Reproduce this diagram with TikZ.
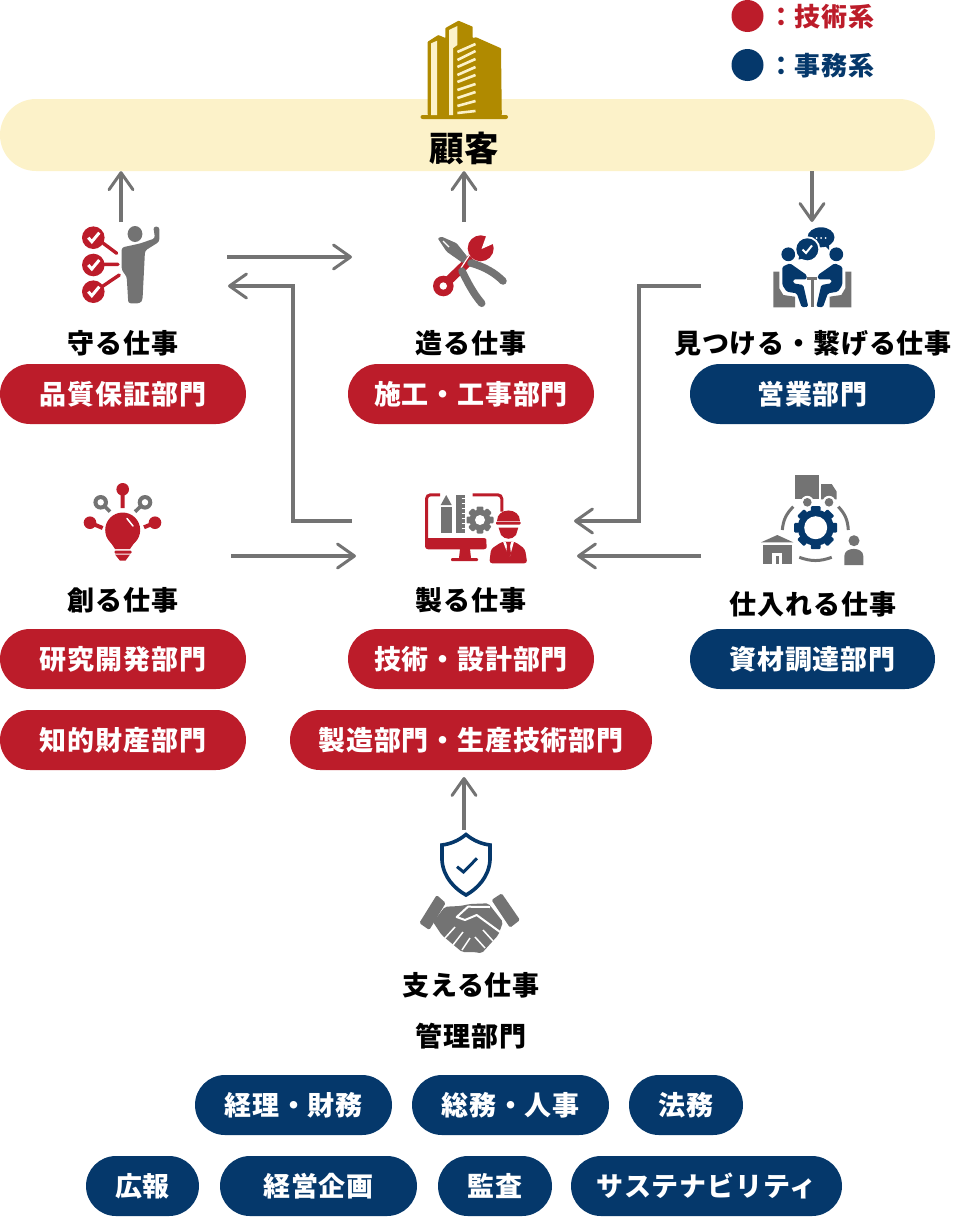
\documentclass[tikz,border=0pt]{standalone}
\usepackage{fontspec}
\setmainfont{Noto Sans CJK JP}[LetterSpace=3]
\usetikzlibrary{arrows.meta}

\definecolor{rot}{HTML}{BC1C2A}
\definecolor{blau}{HTML}{05386B}
\definecolor{grau}{HTML}{737373}
\definecolor{gold}{HTML}{B08A00}
\definecolor{creme}{HTML}{FCF2C9}

\tikzset{
    pille/.style={rounded corners=30pt, minimum height=60pt, inner sep=0pt, text=white,
        font=\fontsize{27}{32}\selectfont\bfseries},
    rotpille/.style={pille, fill=rot},
    blaupille/.style={pille, fill=blau},
    titel/.style={inner sep=0pt, font=\fontsize{27}{32}\selectfont\bfseries},
    legende/.style={anchor=west, inner sep=0pt, font=\fontsize{26}{31}\selectfont\bfseries},
    pfeil/.style={draw=grau, line width=3.4pt,
        -{Straight Barb[length=17pt, width=24pt, line width=3pt, round]}}
}

\newcommand{\zahnrad}[7]{
    \foreach \w in {0,45,...,315}
        \fill[#6, shift={(#1,#2)}, rotate=\w, rounded corners=1pt] (-#7,#3-5) rectangle (#7,#3);
    \fill[#6] (#1,#2) circle (#4);
    \fill[white] (#1,#2) circle (#5);
}

\begin{document}
\begin{tikzpicture}[x=1pt, y=-1pt]
    \useasboundingbox (0,0) rectangle (953,1226);

    \node[fill=creme, rounded corners=36pt, minimum width=935pt, minimum height=72pt, inner sep=0pt] (K) at (467.5,135) {};
    \fill[gold, rounded corners=0.6pt] (427.7,115) -- (427.7,41.7) -- (438.3,35) -- (445.4,38) -- (445.4,28) -- (458.5,20.7) -- (472.7,26.7) -- (472.7,38) -- (476.2,37.3) -- (501,48.3) -- (501.8,115) -- cycle;
    \fill[gold, rounded corners=2pt] (420.5,115) rectangle (508,119);
    \fill[creme] (431.2,43.3) -- (437.2,40.7) -- (437.2,115) -- (431.2,115) -- cycle;
    \fill[creme] (449,30) -- (457.4,26) -- (457.4,45) -- (453.2,48) -- (453.2,115) -- (449,115) -- cycle;
    \foreach \yl/\yr in {52/44,60/51,67/59,75/67,82/75,90/84,98/92,106/101,113/111}
        \draw[creme, line width=2.6pt] (457.4,\yl) -- (475.5,\yr);
    \node[inner sep=0pt, font=\fontsize{34.5}{40}\selectfont\bfseries] (KT) at (464.5,148) {顧客};

    \fill[rot] (747.5,16) circle (16);
    \fill[blau] (747.5,65) circle (16);
    \node[legende, text=rot] (TR) at (768,17) {：技術系};
    \node[legende, text=blau] (TB) at (768,66) {：事務系};

    \coordinate (Mo) at (121,222);
    \coordinate (Ts) at (464,222);
    \coordinate (Mi) at (812,222);
    \coordinate (A1) at (227,257);
    \coordinate (A2) at (352,257);
    \coordinate (B1) at (352,521);
    \coordinate (B2) at (228,286);
    \coordinate (C1) at (701,286);
    \coordinate (C2) at (574,521);
    \coordinate (D1) at (231,556);
    \coordinate (D2) at (356,556);
    \coordinate (E1) at (701,556);
    \coordinate (E2) at (577,556);
    \coordinate (Sa) at (464,830);
    \coordinate (Sb) at (464,777);
    \draw[pfeil] (Mo) -- (Mo |- K.south);
    \draw[pfeil] (Ts) -- (Ts |- K.south);
    \draw[pfeil] (Mi |- K.south) -- (Mi);
    \draw[pfeil] (A1) -- (A2);
    \draw[pfeil] (B1) -- ++(-59,0) |- (B2);
    \draw[pfeil] (C1) -- ++(-62,0) |- (C2);
    \draw[pfeil] (D1) -- (D2);
    \draw[pfeil] (E1) -- (E2);
    \draw[pfeil] (Sa) -- (Sb);

    \fill[grau] (135,234) ellipse (7.4 and 8);
    \fill[grau, rounded corners=2.5pt] (121.7,247.5) -- (140,243.5) -- (155,238.3) -- (153.3,226.7) -- (159.3,226.7) -- (159.3,241.7) -- (145,250.7) -- (142.5,300) -- (140,303.3) -- (128.3,303.3) -- (126.7,276.7) -- (121.7,270) -- cycle;
    \draw[rot, line width=3.4pt, line cap=round] (103.3,243.3) -- (116.7,253.3) (103,264.3) -- (118,264.3) (103,286) -- (119.3,275);
    \foreach \y in {237.7,265,291.7} {
        \fill[rot] (93.3,\y) circle (11.3);
        \draw[white, line width=3pt] (88.3,\y) -- (91.8,\y+4) -- (99.3,\y-5);
    }

    \fill[rot] (480.7,248.3) circle (13);
    \fill[white] (481.5,249) -- (486.5,235) -- (495,243) -- cycle;
    \draw[rot, line width=9pt] (472,258) -- (447,282);
    \fill[rot] (443.3,286) circle (10.3);
    \fill[white] (443.3,286) circle (3.7);
    \fill[grau, rounded corners=1pt] (437.7,238.3) -- (441.7,236.7) -- (456.7,243.3) -- (467.3,256.7) -- (463.3,263.3) -- (446.7,251.7) -- cycle;
    \draw[white, line width=1.4pt] (443,241) -- (449,247);
    \draw[white, line width=1.2pt] (469.5,255) -- (461,268);
    \draw[grau, line width=7.5pt, line cap=round] (471,263) .. controls (485,267) and (495,273) .. (503,281);
    \draw[grau, line width=7.5pt, line cap=round] (462,271) .. controls (468,283) and (473,293) .. (481.7,303.3);

    \foreach \tf in {1,-1} {
        \begin{scope}[shift={(812.3,0)}, xscale=\tf]
            \fill[blau] (-24,254.3) circle (6.9);
            \fill[blau, rounded corners=1.5pt] (-30,266.7) -- (-22.3,263.3) -- (-5.6,275) -- (-5.6,279.3) -- (-19,279.3) -- (-19,283.3) -- (-9,285) -- (-4,306.7) -- (-10.6,307.3) -- (-15.6,293.3) -- (-25.6,291.7) -- (-30,285) -- cycle;
            \fill[grau] (-39,271.7) -- (-33,271.7) -- (-33,288.3) -- (-29,295) -- (-17.3,296.7) -- (-17.3,307.3) -- (-39,307.3) -- cycle;
            \fill[grau] (-5,277) rectangle (0,279.5);
        \end{scope}
    }
    \draw[grau, line width=3pt] (812.3,279) -- (812.3,307);
    \fill[blau] (821,237.3) ellipse (13.5 and 10);
    \fill[blau] (823,244) -- (829,250) -- (829,241) -- cycle;
    \foreach \x in {816.5,821,825.5}
        \fill[white] (\x,238) circle (1);
    \fill[white] (807.3,249.3) circle (13);
    \fill[blau] (807.3,249.3) circle (11);
    \fill[blau] (800,252) -- (798.5,259.5) -- (806,258) -- cycle;
    \draw[white, line width=2pt] (802.5,249.5) -- (806,253) -- (812,245.5);

    \fill[rot] (122.7,530) circle (17.5);
    \fill[rot] (106.5,536) -- (139,536) -- (130,549) -- (115,549) -- cycle;
    \fill[rot, rounded corners=1pt] (114.5,550.5) rectangle (131.5,553.5);
    \fill[rot] (115,554.5) -- (130,554.5) -- (125.5,560.7) -- (120,560.7) -- cycle;
    \draw[white, line width=1.5pt, line cap=round] (127,518.5) -- (133,526);
    \draw[rot, line width=4pt] (122.7,489) -- (122.7,508) (90,522.7) -- (102.7,528) (155,522.7) -- (144,527.3);
    \fill[rot] (122.7,489.3) circle (6.3);
    \fill[rot] (90,522.7) circle (6.3);
    \fill[rot] (155,522.7) circle (6.3);
    \draw[grau, line width=3.6pt] (100.7,502.3) -- (110,511.7) (145,502.3) -- (135,511.7);
    \foreach \x in {100.7,145} {
        \fill[grau] (\x,502.3) circle (7.3);
        \fill[white] (\x,502.3) circle (3.2);
    }

    \draw[rot, line width=3pt, rounded corners=4pt] (440,494.8) -- (426.5,494.8) -- (426.5,545) -- (440,547);
    \draw[rot, line width=3pt, rounded corners=4pt] (472.7,494.8) -- (501.8,494.8) -- (501.8,511.5);
    \fill[rot, rounded corners=3pt] (425,538) -- (487,538) -- (487,549.3) -- (425,549.3) -- cycle;
    \fill[rot] (460,549) -- (470,549) -- (471,558) -- (459,558) -- cycle;
    \fill[rot, rounded corners=1pt] (451,558) rectangle (478,561);
    \fill[grau] (446.2,495) -- (451.7,505) -- (440.7,505) -- cycle;
    \fill[grau] (440.7,506.7) rectangle (451.7,533.3);
    \fill[grau] (456,495) rectangle (465,533.3);
    \foreach \y in {498,503,508,513,518,523,528}
        \draw[white, line width=1pt] (461.5,\y) -- (465.5,\y);
    \zahnrad{480}{520}{13.5}{10.5}{5}{grau}{3.4}
    \fill[white] (508.3,542) ellipse (22 and 24);
    \fill[rot] (497,521) .. controls (497,507) and (520,507) .. (520,521) -- cycle;
    \fill[rot, rounded corners=1pt] (496,521.5) rectangle (520.7,524.5);
    \fill[rot] (498.5,527.5) -- (518.3,527.5) -- (516,535) .. controls (512,540) and (505,540) .. (501,535) -- cycle;
    \fill[rot, rounded corners=3pt] (489.3,563.3) -- (491,549) -- (502,541.7) -- (515,541.7) -- (525,549) -- (527.3,563.3) -- cycle;
    \fill[white] (503,541.5) -- (514,541.5) -- (510,556) -- (508.5,556) -- cycle;
    \fill[rot] (506,542) -- (511,542) -- (510,546) -- (511,554) -- (508.5,558) -- (506,554) -- (507,546) -- cycle;

    \fill[grau] (795,475) rectangle (819,499.3);
    \fill[grau] (821,484) -- (831.7,484) -- (836.7,491.7) -- (836.7,499.3) -- (821,499.3) -- cycle;
    \foreach \x in {807.3,829} {
        \fill[white] (\x,502.3) circle (6.5);
        \fill[grau] (\x,502.3) circle (4.3);
    }
    \zahnrad{815.7}{527.7}{21.5}{18}{11.5}{blau}{4.8}
    \draw[grau, line width=3pt] (793.3,506.7) to[bend right=20] (782.3,530);
    \draw[grau, line width=3pt] (838.3,506.7) to[bend left=20] (848.3,530);
    \draw[grau, line width=3pt] (799.3,557.3) to[bend right=20] (831.7,557.3);
    \fill[grau] (761,542.3) -- (777.3,535) -- (793.3,542.3) -- cycle;
    \fill[grau] (763.3,544.5) rectangle (791.7,564);
    \fill[white] (772.3,553.3) rectangle (782.3,564);
    \fill[grau] (775.7,556) rectangle (779,564);
    \fill[grau] (854,540.7) circle (5.5);
    \fill[grau] (844.3,565) -- (844.3,556) .. controls (844.3,546.5) and (863.3,546.5) .. (863.3,556) -- (863.3,565) -- cycle;

    \draw[blau, line width=3.6pt] (466,834.5) .. controls (458,841) and (450,844) .. (442,845) -- (442,860) .. controls (443,877) and (455,889) .. (466,895) .. controls (477,889) and (489,877) .. (490,860) -- (490,845) .. controls (482,844) and (474,841) .. (466,834.5) -- cycle;
    \draw[blau, line width=3pt] (457,866.7) -- (463.5,872) -- (477,858.3);
    \fill[grau, rounded corners=1.5pt] (436.7,895) -- (445.7,903) -- (429.3,930) -- (419.3,923) -- cycle;
    \fill[grau, rounded corners=1.5pt] (501.7,893.3) -- (520,920) -- (510,927.7) -- (491.5,900) -- cycle;
    \fill[grau, rounded corners=2pt] (445,906.7) -- (460,906) -- (470,904) -- (488.3,903.3) -- (503,922) -- (498.3,935) -- (481.7,953.3) -- (474,952) -- (462,952) -- (441.7,935) -- (433,922) -- cycle;
    \draw[white, line width=2pt, line join=round] (500,932) -- (476.7,915) -- (465,920) -- (456.7,917) -- (468,906.7) -- (490,907);
    \foreach \xa/\ya/\xb/\yb in {445/938/455/927, 453/945/463/932, 462/950/470/938, 475/937/485/948, 483/930/493/941}
        \draw[white, line width=1.5pt] (\xa,\ya) -- (\xb,\yb);

    \node[titel] (TM) at (123,343.5) {守る仕事};
    \node[titel] (TT) at (471,343.5) {造る仕事};
    \node[titel] (TI) at (813,343.5) {見つける・繋げる仕事};
    \node[titel] (TE) at (123,600.5) {創る仕事};
    \node[titel] (TG) at (471,600.5) {製る仕事};
    \node[titel] (TS) at (813,604.5) {仕入れる仕事};
    \node[titel] (TU) at (471,985.5) {支える仕事};
    \node[titel] (TV) at (471,1036.5) {管理部門};

    \node[rotpille, minimum width=246pt] (QA) at (123,394) {品質保証部門};
    \node[rotpille, minimum width=246pt] (BA) at (471,394) {施工・工事部門};
    \node[blaupille, minimum width=245pt] (VT) at (812.5,394) {営業部門};
    \node[rotpille, minimum width=246pt] (FE) at (123,659) {研究開発部門};
    \node[rotpille, minimum width=246pt] (IP) at (123,740) {知的財産部門};
    \node[rotpille, minimum width=246pt] (DE) at (471,659) {技術・設計部門};
    \node[rotpille, minimum width=362pt] (PR) at (471,740) {製造部門・生産技術部門};
    \node[blaupille, minimum width=245pt] (EK) at (812.5,659) {資材調達部門};
    \node[blaupille, minimum width=197pt] (FI) at (293.5,1105) {経理・財務};
    \node[blaupille, minimum width=197pt] (HR) at (510.5,1105) {総務・人事};
    \node[blaupille, minimum width=114pt] (RE) at (686,1105) {法務};
    \node[blaupille, minimum width=113pt] (PU) at (142.5,1186) {広報};
    \node[blaupille, minimum width=197pt] (PL) at (318.5,1186) {経営企画};
    \node[blaupille, minimum width=114pt] (AU) at (495,1186) {監査};
    \node[blaupille, minimum width=271pt] (NH) at (706.5,1186) {サステナビリティ};
\end{tikzpicture}
\end{document}
